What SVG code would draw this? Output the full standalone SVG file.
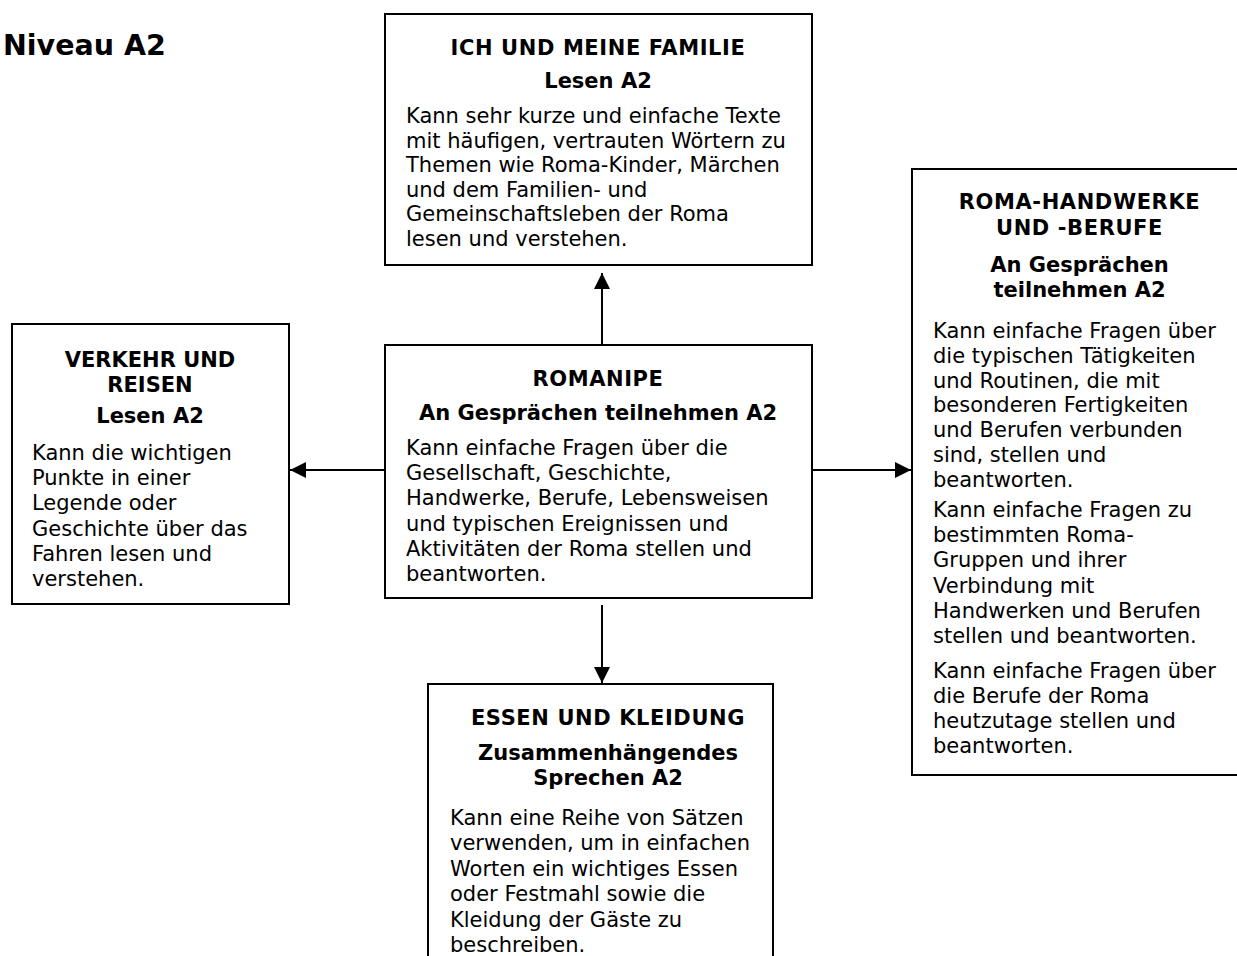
<svg xmlns="http://www.w3.org/2000/svg" width="1237" height="956" viewBox="0 0 1237 956">
<style>
  .box { fill: #ffffff; stroke: #000000; stroke-width: 2; }
  .t { font-family: "DejaVu Sans", Verdana, sans-serif; font-size: 21px; fill: #000000; }
  .b { font-weight: bold; text-anchor: middle; }
  .c { letter-spacing: 0.6px; }
  .h { font-family: "DejaVu Sans", Verdana, sans-serif; font-size: 28.5px; font-weight: bold; fill: #000000; }
  .con { stroke: #000000; stroke-width: 2; fill: none; marker-end: url(#arr); }
</style>
<defs>
  <marker id="arr" viewBox="0 0 16 16" refX="16" refY="8" markerWidth="16" markerHeight="16" markerUnits="userSpaceOnUse" orient="auto">
    <path d="M0,0 L16,8 L0,16 Z" fill="#000000"/>
  </marker>
</defs>
<rect width="1237" height="956" fill="#ffffff"/>

<text class="h" x="3" y="55">Niveau A2</text>

<g id="connectors">
  <line class="con" x1="602" y1="345" x2="602" y2="273"/>
  <line class="con" x1="385" y1="470" x2="290" y2="470"/>
  <line class="con" x1="812" y1="470" x2="911" y2="470"/>
  <line class="con" x1="602" y1="605" x2="602" y2="683"/>
</g>

<g id="node-familie">
  <rect class="box" x="385" y="14" width="427" height="251"/>
  <text class="t b c" x="598" y="55">ICH UND MEINE FAMILIE</text>
  <text class="t b" x="598" y="88">Lesen A2</text>
  <text class="t" x="406" y="123">Kann sehr kurze und einfache Texte</text>
  <text class="t" x="406" y="147.6">mit häufigen, vertrauten Wörtern zu</text>
  <text class="t" x="406" y="172.2">Themen wie Roma-Kinder, Märchen</text>
  <text class="t" x="406" y="196.8">und dem Familien- und</text>
  <text class="t" x="406" y="221.4">Gemeinschaftsleben der Roma</text>
  <text class="t" x="406" y="246">lesen und verstehen.</text>
</g>

<g id="node-romanipe">
  <rect class="box" x="385" y="345" width="427" height="253"/>
  <text class="t b c" x="598" y="386">ROMANIPE</text>
  <text class="t b" x="598" y="420">An Gesprächen teilnehmen A2</text>
  <text class="t" x="406" y="455">Kann einfache Fragen über die</text>
  <text class="t" x="406" y="480.2">Gesellschaft, Geschichte,</text>
  <text class="t" x="406" y="505.4">Handwerke, Berufe, Lebensweisen</text>
  <text class="t" x="406" y="530.6">und typischen Ereignissen und</text>
  <text class="t" x="406" y="555.8">Aktivitäten der Roma stellen und</text>
  <text class="t" x="406" y="581">beantworten.</text>
</g>

<g id="node-verkehr">
  <rect class="box" x="12" y="324" width="277" height="280"/>
  <text class="t b" x="150" y="367">VERKEHR UND</text>
  <text class="t b" x="150" y="392">REISEN</text>
  <text class="t b" x="150" y="423">Lesen A2</text>
  <text class="t" x="32" y="460">Kann die wichtigen</text>
  <text class="t" x="32" y="485.2">Punkte in einer</text>
  <text class="t" x="32" y="510.4">Legende oder</text>
  <text class="t" x="32" y="535.6">Geschichte über das</text>
  <text class="t" x="32" y="560.8">Fahren lesen und</text>
  <text class="t" x="32" y="586">verstehen.</text>
</g>

<g id="node-handwerke">
  <rect class="box" x="912" y="169" width="340" height="606"/>
  <text class="t b c" x="1079.5" y="209">ROMA-HANDWERKE</text>
  <text class="t b c" x="1079.5" y="235">UND -BERUFE</text>
  <text class="t b" x="1079.5" y="272">An Gesprächen</text>
  <text class="t b" x="1079.5" y="297">teilnehmen A2</text>
  <text class="t" x="933" y="338">Kann einfache Fragen über</text>
  <text class="t" x="933" y="362.8">die typischen Tätigkeiten</text>
  <text class="t" x="933" y="387.6">und Routinen, die mit</text>
  <text class="t" x="933" y="412.4">besonderen Fertigkeiten</text>
  <text class="t" x="933" y="437.2">und Berufen verbunden</text>
  <text class="t" x="933" y="462">sind, stellen und</text>
  <text class="t" x="933" y="486.8">beantworten.</text>
  <text class="t" x="933" y="516.7">Kann einfache Fragen zu</text>
  <text class="t" x="933" y="542">bestimmten Roma-</text>
  <text class="t" x="933" y="567.3">Gruppen und ihrer</text>
  <text class="t" x="933" y="592.6">Verbindung mit</text>
  <text class="t" x="933" y="617.9">Handwerken und Berufen</text>
  <text class="t" x="933" y="643.2">stellen und beantworten.</text>
  <text class="t" x="933" y="678">Kann einfache Fragen über</text>
  <text class="t" x="933" y="703">die Berufe der Roma</text>
  <text class="t" x="933" y="728">heutzutage stellen und</text>
  <text class="t" x="933" y="753">beantworten.</text>
</g>

<g id="node-essen">
  <rect class="box" x="428" y="684" width="345" height="300"/>
  <text class="t b c" x="608" y="725">ESSEN UND KLEIDUNG</text>
  <text class="t b" x="608" y="760">Zusammenhängendes</text>
  <text class="t b" x="608" y="785">Sprechen A2</text>
  <text class="t" x="450" y="825">Kann eine Reihe von Sätzen</text>
  <text class="t" x="450" y="850.4">verwenden, um in einfachen</text>
  <text class="t" x="450" y="875.8">Worten ein wichtiges Essen</text>
  <text class="t" x="450" y="901.2">oder Festmahl sowie die</text>
  <text class="t" x="450" y="926.6">Kleidung der Gäste zu</text>
  <text class="t" x="450" y="952">beschreiben.</text>
</g>
</svg>
